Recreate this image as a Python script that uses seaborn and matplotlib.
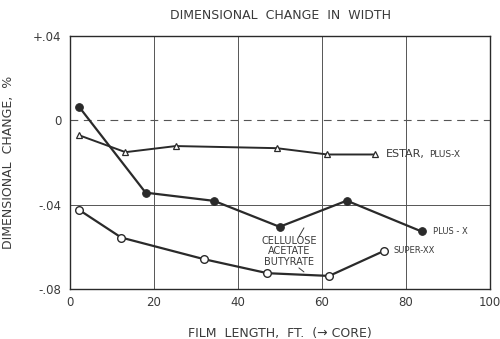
import matplotlib
matplotlib.use("Agg")
import matplotlib.pyplot as plt
import seaborn as sns
import pandas as pd

# Film length (ft) and dimensional change in width (%)
plus_x_len = [2.2, 18.0, 34.3, 49.9, 65.9, 83.7]
plus_x_chg = [0.0063, -0.0343, -0.0382, -0.0505, -0.0381, -0.0527]

estar_len = [2.2, 13.2, 25.2, 49.2, 61.3, 72.7]
estar_chg = [-0.0071, -0.0151, -0.0122, -0.0132, -0.0162, -0.0162]

super_xx_len = [2.1, 12.2, 32.0, 47.0, 61.7, 74.8]
super_xx_chg = [-0.0424, -0.0556, -0.0659, -0.0725, -0.0738, -0.0619]

x_ticks = [0, 20, 40, 60, 80, 100]
x_tick_labels = ["0", "20", "40", "60", "80", "100"]
y_ticks = [-0.08, -0.04, 0.0, 0.04]
y_tick_labels = ["-.08", "-.04", "0", "+.04"]

sns.set_style("white")
plt.rcParams["font.family"] = ["DejaVu Sans"]
ink = "#2a2a2a"
txt = "#3a3a3a"

fig = plt.figure(figsize=(5.0, 3.39), dpi=100)
ax = fig.add_axes([0.14, 0.1475, 0.84, 0.7463])

# grid: solid verticals, solid at -.04, dashed at zero
for xv in [20, 40, 60, 80]:
    ax.axvline(xv, color="#555555", lw=0.7, zorder=1)
ax.axhline(-0.04, color="#555555", lw=0.7, zorder=1)
ax.axhline(0.0, color="#555555", lw=0.8, ls=(0, (7, 5)), zorder=1)

df_px = pd.DataFrame({"len": plus_x_len, "chg": plus_x_chg})
df_es = pd.DataFrame({"len": estar_len, "chg": estar_chg})
df_sx = pd.DataFrame({"len": super_xx_len, "chg": super_xx_chg})

sns.lineplot(data=df_px, x="len", y="chg", ax=ax, color=ink, lw=1.6,
             marker="o", markersize=5.5, markerfacecolor=ink,
             markeredgecolor=ink, sort=False, zorder=3)
sns.lineplot(data=df_es, x="len", y="chg", ax=ax, color=ink, lw=1.4,
             marker="^", markersize=5, markerfacecolor="white",
             markeredgecolor=ink, markeredgewidth=0.9, sort=False, zorder=3)
sns.lineplot(data=df_sx, x="len", y="chg", ax=ax, color=ink, lw=1.6,
             marker="o", markersize=5.5, markerfacecolor="white",
             markeredgecolor=ink, markeredgewidth=1.0, sort=False, zorder=3)

ax.set_xlim(0, 100)
ax.set_ylim(-0.08, 0.04)
ax.set_xticks(x_ticks)
ax.set_xticklabels(x_tick_labels)
ax.set_yticks(y_ticks)
ax.set_yticklabels(y_tick_labels)
ax.tick_params(axis="both", length=0, labelsize=8.5, labelcolor=txt)
ax.tick_params(axis="x", pad=5)
ax.tick_params(axis="y", pad=6)

for s in ax.spines.values():
    s.set_visible(True)
    s.set_color(ink)
    s.set_linewidth(1.0)

ax.set_xlabel("FILM  LENGTH,  FT.  (\u2192 CORE)", fontsize=9, color=txt,
              labelpad=13)
ax.set_ylabel("DIMENSIONAL  CHANGE,  %", fontsize=9, color=txt, labelpad=13)
ax.set_title("DIMENSIONAL  CHANGE  IN  WIDTH", fontsize=9, color=txt, pad=12)

# series annotations
ax.text(75.2, -0.0162, "ESTAR,", fontsize=8, color=txt, va="center", ha="left")
ax.text(85.4, -0.0162, "PLUS-X", fontsize=6.5, color=txt, va="center", ha="left")
ax.text(86.5, -0.0527, "PLUS - X", fontsize=6, color=txt, va="center", ha="left")
ax.text(77.0, -0.0619, "SUPER-XX", fontsize=6, color=txt, va="center", ha="left")
ax.text(52.2, -0.0622, "CELLULOSE\nACETATE\nBUTYRATE", fontsize=7, color=txt,
        va="center", ha="center", linespacing=1.05)
ax.plot([54.5, 55.7], [-0.0552, -0.0510], color=txt, lw=0.7)
ax.plot([54.5, 55.7], [-0.0700, -0.0719], color=txt, lw=0.7)

fig.savefig("out.png", dpi=100)
